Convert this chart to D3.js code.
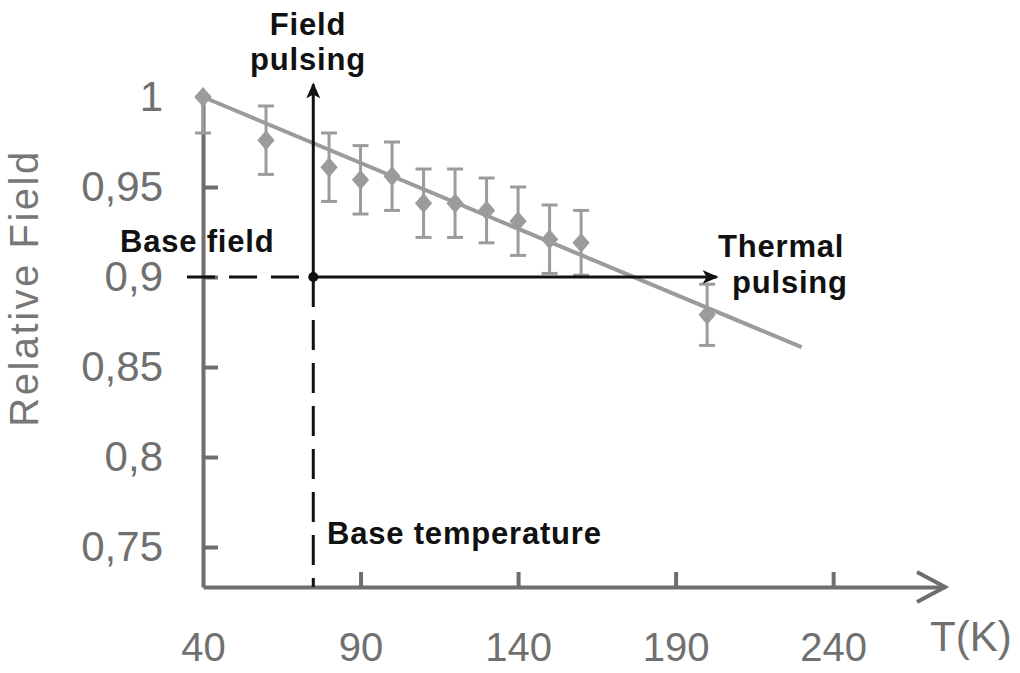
<!DOCTYPE html>
<html>
<head>
<meta charset="utf-8">
<script src="https://cdn.jsdelivr.net/npm/d3@7"></script>
<style>
    body { margin: 0; background: #fff; }
    svg { display: block; font-family: "Liberation Sans", Arial, sans-serif; }
    .axis path, .axis line { stroke: #6e6e6e; stroke-width: 4; }
    .axis text { fill: #707070; font-size: 42px; font-family: "Liberation Sans", Arial, sans-serif; }
    .x-axis .tick text { font-size: 40px; }
    .note { font-weight: bold; font-size: 31px; fill: #111; letter-spacing: 0.8px; }
</style>
</head>
<body>
<div id="chart-area"><svg></svg></div>
<script>
const chartSize = { width: 1020, height: 673 };
const margin = { left: 203, right: 75, top: 97, bottom: 86 };

const width = chartSize.width - margin.left - margin.right;
const height = chartSize.height - margin.top - margin.bottom;

// measured points (T in K, relative field) with error bars
const temps = [40, 60, 80, 90, 100, 110, 120, 130, 140, 150, 160, 200];
const field = [1.0, 0.976, 0.961, 0.954, 0.956, 0.941, 0.941, 0.937, 0.931, 0.921, 0.919, 0.879];
const errUp = [0, 0.019, 0.019, 0.019, 0.019, 0.019, 0.019, 0.018, 0.019, 0.019, 0.018, 0.017];
const errDown = [0.02, 0.019, 0.019, 0.019, 0.019, 0.019, 0.019, 0.018, 0.019, 0.019, 0.018, 0.017];

// linear fit
const fitT = [40, 230];
const fitField = [1.0, 0.861];

const xTicks = [40, 90, 140, 190, 240];
const yTicks = [0.75, 0.8, 0.85, 0.9, 0.95, 1];

// operating point and pulsing arrows
const baseT = 75;
const baseField = 0.9;
const fieldArrowTop = 1.007;
const thermalArrowEnd = 203;

const grey = "#9b9b9b";

const fmt = d => String(d).replace(".", ",");

const drawChart = () => {
    const svg = d3.select("#chart-area svg")
        .attr("width", chartSize.width)
        .attr("height", chartSize.height);

    const defs = svg.append("defs");
    defs.append("marker")
        .attr("id", "head")
        .attr("viewBox", "0 0 16 16")
        .attr("refX", 14).attr("refY", 8)
        .attr("markerUnits", "userSpaceOnUse")
        .attr("markerWidth", 16).attr("markerHeight", 16)
        .attr("orient", "auto")
        .append("path")
        .attr("d", "M0,1 L16,8 L0,15 L4,8 Z")
        .attr("fill", "#111");

    const g = svg.append("g")
        .attr("transform", `translate(${margin.left},${margin.top})`);

    const x = d3.scaleLinear().domain([40, 275.5]).range([0, width]);
    const y = d3.scaleLinear().domain([0.7278, 1]).range([height, 0]);

    const xAxis = d3.axisBottom(x)
        .tickValues(xTicks)
        .tickSizeInner(-15)
        .tickSizeOuter(0)
        .tickPadding(46)
        .tickFormat(fmt);
    const yAxis = d3.axisLeft(y)
        .tickValues(yTicks)
        .tickSizeInner(-15)
        .tickSizeOuter(0)
        .tickPadding(40)
        .tickFormat(fmt);

    const gx = g.append("g")
        .attr("class", "axis x-axis")
        .attr("transform", `translate(0,${height})`)
        .call(xAxis);
    gx.select(".domain").attr("fill", "none");
    gx.selectAll(".tick").filter(d => d === 40).select("line").remove();

    const gy = g.append("g")
        .attr("class", "axis y-axis")
        .call(yAxis);
    gy.select(".domain").attr("fill", "none");
    gy.selectAll(".tick").filter(d => d === 1).select("line").remove();

    // open arrow head of the T axis
    gx.append("path")
        .attr("d", `M${width - 28},-15 L${width},0 L${width - 28},15`)
        .attr("fill", "none")
        .attr("stroke-linejoin", "miter");

    gx.append("text")
        .attr("x", 727)
        .attr("y", 64)
        .attr("text-anchor", "start")
        .text("T(K)");

    svg.append("text")
        .attr("transform", "translate(38,288) rotate(-90)")
        .attr("text-anchor", "middle")
        .attr("fill", "#777")
        .attr("font-size", 40)
        .attr("letter-spacing", 2.5)
        .text("Relative Field");

    // dashed guides to base field / base temperature
    g.append("line")
        .attr("x1", -16).attr("x2", x(baseT))
        .attr("y1", y(baseField)).attr("y2", y(baseField))
        .attr("stroke", "#111").attr("stroke-width", 3)
        .attr("stroke-dasharray", "28,14");
    g.append("line")
        .attr("x1", x(baseT)).attr("x2", x(baseT))
        .attr("y1", y(baseField)).attr("y2", height)
        .attr("stroke", "#111").attr("stroke-width", 3)
        .attr("stroke-dasharray", "30,13");

    // fit line
    const line = d3.line()
        .x(d => x(d[0]))
        .y(d => y(d[1]));
    g.append("path")
        .attr("d", line(d3.zip(fitT, fitField)))
        .attr("fill", "none")
        .attr("stroke", grey)
        .attr("stroke-width", 4);

    const points = temps.map((t, i) => ({ t, v: field[i], up: errUp[i], down: errDown[i] }));

    const bars = g.append("g").selectAll("g")
        .data(points)
        .enter().append("g")
        .attr("stroke", grey)
        .attr("stroke-width", 3);
    bars.append("line")
        .attr("x1", d => x(d.t)).attr("x2", d => x(d.t))
        .attr("y1", d => y(d.v + d.up)).attr("y2", d => y(d.v - d.down));
    bars.append("line")
        .attr("x1", d => x(d.t) - 8).attr("x2", d => x(d.t) + 8)
        .attr("y1", d => y(d.v + d.up)).attr("y2", d => y(d.v + d.up));
    bars.append("line")
        .attr("x1", d => x(d.t) - 8).attr("x2", d => x(d.t) + 8)
        .attr("y1", d => y(d.v - d.down)).attr("y2", d => y(d.v - d.down));

    g.append("g").selectAll("path")
        .data(points)
        .enter().append("path")
        .attr("d", d3.symbol(d3.symbolDiamond2, 190))
        .attr("transform", d => `translate(${x(d.t)},${y(d.v)}) scale(1,1.15)`)
        .attr("fill", grey);

    // pulsing arrows
    g.append("line")
        .attr("x1", x(baseT)).attr("x2", x(baseT))
        .attr("y1", y(baseField)).attr("y2", y(fieldArrowTop))
        .attr("stroke", "#111").attr("stroke-width", 3)
        .attr("marker-end", "url(#head)");
    g.append("line")
        .attr("x1", x(baseT)).attr("x2", x(thermalArrowEnd))
        .attr("y1", y(baseField)).attr("y2", y(baseField))
        .attr("stroke", "#111").attr("stroke-width", 3)
        .attr("marker-end", "url(#head)");
    g.append("circle")
        .attr("cx", x(baseT)).attr("cy", y(baseField))
        .attr("r", 5).attr("fill", "#111");

    const notes = [
        { text: "Field", x: 308, y: 35, anchor: "middle" },
        { text: "pulsing", x: 308, y: 70, anchor: "middle" },
        { text: "Base field", x: 120, y: 252, anchor: "start" },
        { text: "Thermal", x: 718, y: 257, anchor: "start" },
        { text: "pulsing", x: 732, y: 293, anchor: "start" },
        { text: "Base temperature", x: 327, y: 544, anchor: "start" }
    ];
    svg.append("g").selectAll("text")
        .data(notes)
        .enter().append("text")
        .attr("class", "note")
        .attr("x", d => d.x)
        .attr("y", d => d.y)
        .attr("text-anchor", d => d.anchor)
        .text(d => d.text);
};

window.onload = drawChart;
</script>
</body>
</html>
